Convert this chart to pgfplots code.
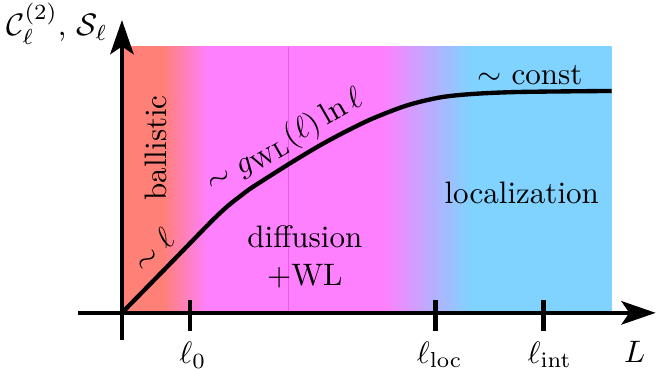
\documentclass[border=0pt]{standalone}
\usepackage{pgfplots}
\pgfplotsset{compat=1.18}
\usetikzlibrary{arrows.meta}
\definecolor{salm}{RGB}{255,128,118}
\definecolor{mag}{RGB}{255,128,255}
\definecolor{sky}{RGB}{128,210,255}
\definecolor{seam}{RGB}{235,90,235}
\pgfdeclarehorizontalshading{bg}{100bp}{color(0bp)=(salm); color(29.18bp)=(salm); color(33.78bp)=(mag); color(51.63bp)=(mag); color(60.51bp)=(sky); color(100bp)=(sky)}
\begin{document}
\begin{tikzpicture}
\begin{axis}[
  x=3.22pt, y=3.22pt,
  xmin=-12.2, xmax=53.6, ymin=-5.8, ymax=31.3,
  hide axis, clip=false,
]
% background
\addplot[draw=none, shading=bg] coordinates {(0,0) (49,0) (49,26.6) (0,26.6)} -- cycle;
\addplot[seam, line width=0.4pt] coordinates {(16.7,0) (16.7,26.6)};
% curve
\addplot[black, line width=1.4pt, smooth] coordinates {
(0,0) (4.9,5.0) (9.0,9.2) (10.6,10.7) (12.0,11.8) (13.1,12.6) (16.8,14.95) (19.8,16.75)
(22.5,18.2) (25.1,19.45) (28.5,20.75) (31.8,21.55) (35.1,21.9) (39.8,22.1) (49.0,22.2)};
% axes
\draw[line width=1.5pt, -{Stealth[length=11pt,width=7.5pt,inset=2.5pt]}] (axis cs:0,-2.7) -- (axis cs:0,29.3);
\draw[line width=1.5pt, -{Stealth[length=11pt,width=7.5pt,inset=2.5pt]}] (axis cs:-4.4,0) -- (axis cs:53.4,0);
\draw[line width=1.5pt] (axis cs:6.8,1.3) -- (axis cs:6.8,-1.8);
\draw[line width=1.5pt] (axis cs:31.4,1.3) -- (axis cs:31.4,-1.8);
\draw[line width=1.5pt] (axis cs:42.2,1.3) -- (axis cs:42.2,-1.8);
% labels
\node[inner sep=0] at (axis cs:7.1,-4.25) {$\ell_0$};
\node[inner sep=0] at (axis cs:31.8,-4.2) {$\ell_{\mathrm{loc}}$};
\node[inner sep=0] at (axis cs:42.8,-4.2) {$\ell_{\mathrm{int}}$};
\node[inner sep=0] at (axis cs:51.3,-3.9) {$L$};
\node[inner sep=0] at (axis cs:-6.5,28.9) {$\mathcal{C}_\ell^{(2)}$, $\mathcal{S}_\ell$};
\node[inner sep=0, rotate=90] at (axis cs:3.4,16.5) {ballistic};
\node[inner sep=0, rotate=45] at (axis cs:3.1,6.3) {$\sim\ell$};
\node[inner sep=0, rotate=30] at (axis cs:16.3,17.2) {$\sim g_{\mathrm{WL}}(\ell)\ln\ell$};
\node[inner sep=0] at (axis cs:40.8,23.8) {$\sim$ const};
\node[inner sep=0] at (axis cs:40.0,12.0) {localization};
\node[inner sep=0, align=center] at (axis cs:18.3,5.6) {diffusion\\+WL};
\path (axis cs:-12.2,-5.8) rectangle (axis cs:53.6,31.3);
\end{axis}
\end{tikzpicture}
\end{document}
